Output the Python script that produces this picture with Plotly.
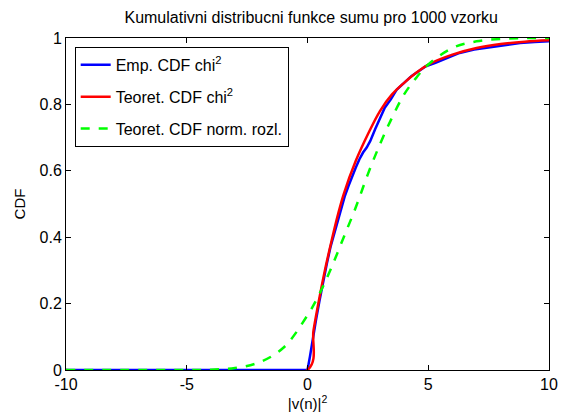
import plotly.graph_objects as go

# Theoretical chi^2 CDF
x_chi = [-10, 0, 0.25, 0.5, 0.75, 1, 1.25, 1.5, 2, 2.5, 3, 3.5, 4, 4.5, 5, 6, 7, 8, 9, 10]
y_chi = [0, 0, 0.12, 0.22, 0.31, 0.39, 0.465, 0.53, 0.63, 0.71, 0.78, 0.83, 0.865, 0.895, 0.92, 0.95, 0.97, 0.982, 0.989, 0.993]

x_emp = [-10, 0, 0.1, 0.2, 0.35, 0.5, 0.65, 0.8, 0.95, 1.1, 1.25, 1.4, 1.55, 1.7, 1.85, 2.0, 2.15, 2.3, 2.45, 2.6,
         2.8, 3.0, 3.2, 3.45, 3.7, 4.0, 4.3, 4.6, 4.9, 5.3, 5.8, 6.3, 6.9, 7.5, 8.2, 8.8, 9.4, 10]
y_emp = [0, 0, 0.04, 0.09, 0.15, 0.21, 0.27, 0.32, 0.37, 0.41, 0.45, 0.49, 0.525, 0.555, 0.585, 0.61, 0.635, 0.655, 0.67, 0.69,
         0.725, 0.76, 0.79, 0.815, 0.845, 0.865, 0.885, 0.9, 0.915, 0.925, 0.94, 0.955, 0.965, 0.972, 0.98, 0.985, 0.988, 0.99]

# Theoretical normal CDF
x_norm = [-10, -5, -4, -3, -2, -1, 0, 0.5, 1, 1.5, 2, 2.5, 3, 3.5, 4, 4.5, 5, 6, 7, 8, 9, 10]
y_norm = [0, 0.0002, 0.001, 0.006, 0.023, 0.067, 0.165, 0.23, 0.31, 0.40, 0.49, 0.59, 0.68, 0.76, 0.83, 0.88, 0.92, 0.97, 0.99, 0.997, 1.0, 1.0]

x_ticks = [-10, -5, 0, 5, 10]
x_tick_text = ["-10", "-5", "0", "5", "10"]
y_ticks = [0, 0.2, 0.4, 0.6, 0.8, 1]
y_tick_text = ["0", "0.2", "0.4", "0.6", "0.8", "1"]

FONT = "Liberation Sans, Arial"

fig = go.Figure()
fig.add_trace(go.Scatter(x=x_emp, y=y_emp, mode="lines", line=dict(color="#0000ff", width=2.5),
                         name="Emp. CDF chi<sup>2</sup>", legendgroup="a"))
fig.add_trace(go.Scatter(x=x_chi, y=y_chi, mode="lines", line=dict(color="#ff0000", width=2.5, shape="spline"),
                         name="Teoret. CDF chi<sup>2</sup>", legendgroup="b"))
fig.add_trace(go.Scatter(x=x_norm, y=y_norm, mode="lines", line=dict(color="#00ff00", width=2.5, dash="dash", shape="spline"),
                         name="Teoret. CDF norm. rozl.", legendgroup="c"))

axis_common = dict(showgrid=False, zeroline=False, showline=True, linecolor="black", linewidth=1,
                   mirror="ticks", ticks="inside", ticklen=5, tickcolor="black",
                   tickfont=dict(family=FONT, size=16, color="black"))

fig.update_layout(
    width=570, height=417,
    margin=dict(l=66, r=13, t=38, b=47),
    paper_bgcolor="white", plot_bgcolor="white",
    title=dict(text="Kumulativni distribucni funkce sumu pro 1000 vzorku", x=0.546, xanchor="center",
               y=0.958, yanchor="middle", font=dict(family=FONT, size=16, color="black")),
    xaxis=dict(range=[-10, 10], tickvals=x_ticks, ticktext=x_tick_text,
               title=dict(text="|v(n)|<sup>2</sup>", standoff=0, font=dict(family=FONT, size=15, color="black")),
               **axis_common),
    yaxis=dict(range=[0, 1], tickvals=y_ticks, ticktext=y_tick_text,
               title=dict(text="CDF", standoff=10, font=dict(family=FONT, size=15, color="black")),
               **axis_common),
    legend=dict(x=0.018, y=0.973, xanchor="left", yanchor="top", bgcolor="white", bordercolor="black",
                borderwidth=1, font=dict(family=FONT, size=16, color="black"),
                traceorder="grouped", tracegroupgap=8),
    showlegend=True,
)

fig.write_html("out.html")
